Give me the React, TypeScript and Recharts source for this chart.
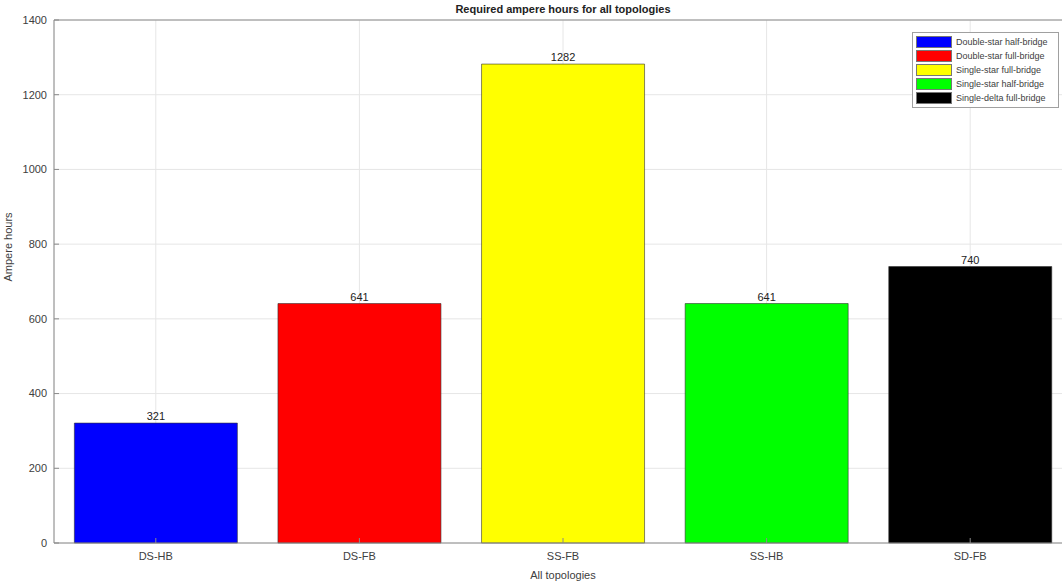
import { BarChart, Bar, XAxis, YAxis, CartesianGrid, Cell, LabelList, ReferenceLine } from 'recharts';

const categories = ['DS-HB', 'DS-FB', 'SS-FB', 'SS-HB', 'SD-FB'];
const ampereHours = [321, 641, 1282, 641, 740];
const legendNames = [
  'Double-star half-bridge',
  'Double-star full-bridge',
  'Single-star full-bridge',
  'Single-star half-bridge',
  'Single-delta full-bridge',
];
const barColors = ['#0000ff', '#ff0000', '#ffff00', '#00ff00', '#000000'];
const yTicks = [0, 200, 400, 600, 800, 1000, 1200, 1400];

const FONT = '"Liberation Sans", Arial, sans-serif';
const AXIS = '#8a8a8a';
const TEXT = '#404040';

// chart is wider than the window: the right side of the MATLAB axes box is cropped off
const W = 1092;
const H = 583;

function LegendBox() {
  return (
    <div
      style={{
        position: 'absolute',
        left: 912,
        top: 32,
        border: '1px solid #a0a0a0',
        background: '#fff',
        padding: '2px 3px',
        fontFamily: FONT,
        fontSize: 9,
        color: TEXT,
        width: 139,
      }}
    >
      {legendNames.map((name, i) => (
        <div key={name} style={{ display: 'flex', alignItems: 'center', height: 14 }}>
          <span
            style={{
              display: 'inline-block',
              width: 34,
              height: 10,
              background: barColors[i],
              border: '1px solid #777',
              marginRight: 4,
            }}
          />
          {name}
        </div>
      ))}
    </div>
  );
}

export default function App() {
  const data = categories.map((c, i) => ({ name: c, value: ampereHours[i] }));
  return (
    <div style={{ position: 'absolute', left: 0, top: 0, width: 1062, height: H, overflow: 'hidden', background: '#fff' }}>
      <div
        style={{
          position: 'absolute',
          top: 3,
          left: 54,
          width: 1018,
          textAlign: 'center',
          fontFamily: FONT,
          fontWeight: 'bold',
          fontSize: 11,
          color: '#222',
        }}
      >
        Required ampere hours for all topologies
      </div>
      <BarChart
        width={W}
        height={H}
        data={data}
        margin={{ top: 20, right: W - 1072, bottom: 0, left: 0 }}
        barCategoryGap="10%"
        style={{ fontFamily: FONT }}
      >
        <CartesianGrid stroke="#e6e6e6" vertical horizontal />
        <XAxis
          dataKey="name"
          height={40}
          stroke={AXIS}
          tick={{ fontSize: 11, fill: TEXT }}
          tickSize={-5}
          tickMargin={14}
          label={{ value: 'All topologies', position: 'insideBottom', offset: 4, fontSize: 11, fill: TEXT }}
        />
        <YAxis
          width={54}
          domain={[0, 1400]}
          ticks={yTicks}
          stroke={AXIS}
          tick={{ fontSize: 11, fill: TEXT }}
          tickSize={-5}
          tickMargin={12}
          label={{ value: 'Ampere hours', angle: -90, position: 'insideLeft', offset: 8, fontSize: 11, fill: TEXT }}
        />
        <ReferenceLine y={1400} stroke={AXIS} />
        <Bar dataKey="value" stroke="#333" strokeWidth={0.6} isAnimationActive={false}>
          {data.map((d, i) => (
            <Cell key={d.name} fill={barColors[i]} />
          ))}
          <LabelList dataKey="value" position="top" offset={3} fontSize={11} fill="#222" />
        </Bar>
      </BarChart>
      <LegendBox />
    </div>
  );
}
